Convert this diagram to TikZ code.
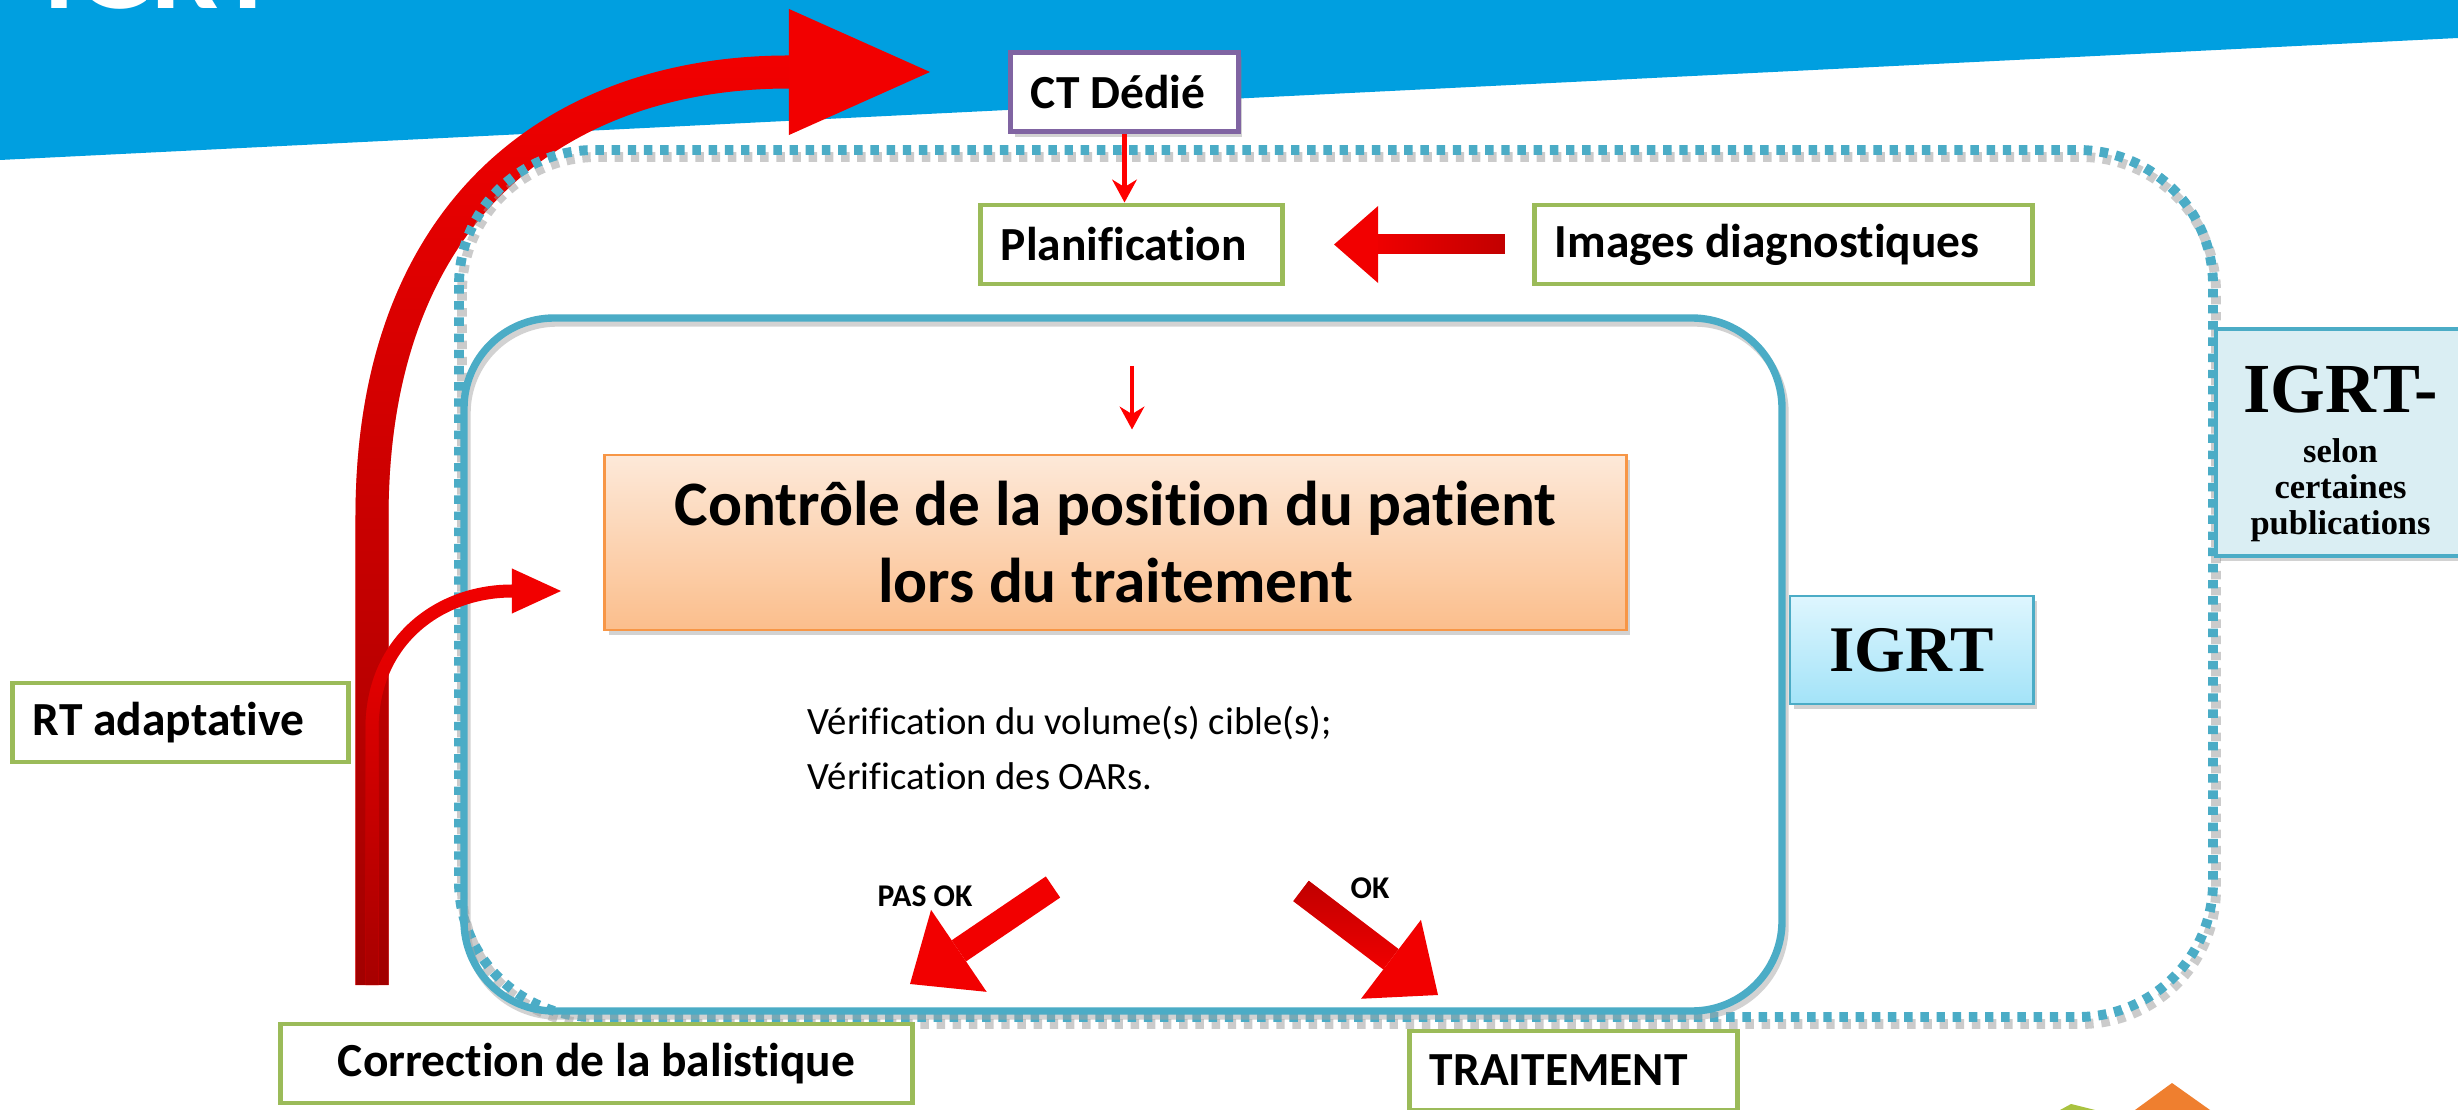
\documentclass[tikz,border=0pt]{standalone}
\usepackage{fontspec}
\setmainfont{Carlito}[Ligatures=NoCommon]
\newfontfamily\igrtfont{Liberation Serif}
\usetikzlibrary{arrows.meta}
\usetikzlibrary{shadows}
\usetikzlibrary{fadings}
\usetikzlibrary{calc}

\definecolor{bannerblue}{HTML}{009FE0}
\definecolor{igrtblue}{HTML}{4BACC6}
\definecolor{boxgreen}{HTML}{9BBB59}
\definecolor{ctpurple}{HTML}{8064A2}
\definecolor{ctrlorange}{HTML}{F79646}
\definecolor{ctrltop}{HTML}{FDE9D9}
\definecolor{ctrlbottom}{HTML}{FBBE8C}
\definecolor{igrttop}{HTML}{DEF6FE}
\definecolor{igrtbottom}{HTML}{A3E3F8}
\definecolor{pubfill}{HTML}{DAEEF3}
\definecolor{arrowred}{HTML}{F20000}
\definecolor{darkred}{HTML}{A00000}
\definecolor{decoorange}{HTML}{EF7F2F}
\definecolor{decogreen}{HTML}{A9C23F}

\tikzfading[name=loopfade,top color=transparent!100,middle color=transparent!40,bottom color=transparent!0]
\tikzfading[name=tailright,left color=transparent!100,right color=transparent!0]
\tikzfading[name=tailtop,top color=transparent!0,bottom color=transparent!100]

\begin{document}
\begin{tikzpicture}
  [x=0.01cm, y=-0.01cm,
  softshadow/.style={drop shadow={opacity=0.35,shadow xshift=0.04cm,shadow yshift=-0.05cm}},
  greenbox/.style={draw=boxgreen,line width=1.4pt,fill=white,align=left,inner xsep=0.2cm,inner ysep=0pt,minimum height=0.79cm,font=\fontsize{13.5}{16}\selectfont\bfseries,execute at begin node={\spaceskip=0pt\xspaceskip=0pt}},
  ctbox/.style={greenbox,draw=ctpurple,softshadow},
  ctrlbox/.style={draw=ctrlorange,line width=0.8pt,top color=ctrltop,bottom color=ctrlbottom,align=center,minimum width=10.21cm,minimum height=1.75cm,font=\fontsize{18}{21.9}\selectfont\bfseries,softshadow},
  igrtbox/.style={draw=igrtblue,line width=0.8pt,top color=igrttop,bottom color=igrtbottom,minimum width=2.43cm,minimum height=1.08cm,font=\igrtfont\fontsize{18.5}{20}\selectfont\bfseries,softshadow},
  pubbox/.style={draw=igrtblue,line width=1pt,fill=pubfill,minimum width=2.49cm,minimum height=2.27cm,softshadow},
  pubtext/.style={align=center,inner sep=0pt,font=\igrtfont\fontsize{9.8}{10.2}\selectfont\bfseries},
  dotbox/.style={draw=igrtblue,line width=2.8pt,dash pattern=on 2.4pt off 2.2pt,rounded corners=1.35cm},
  framebox/.style={draw=igrtblue,line width=2.1pt,rounded corners=0.9cm},
  thinred/.style={draw=red,line width=1.3pt,-{Stealth[length=6.5pt,width=7pt]}},
  okarrow/.style={draw=arrowred,line width=0.255cm,-{Triangle[length=0.59cm,width=0.99cm,line width=0pt]}},
  bigleft/.style={draw=arrowred,line width=0.2cm,-{Triangle[length=0.44cm,width=0.77cm,line width=0pt]}},
  looparrow/.style={draw=arrowred,line width=0.33cm,-{Triangle[length=1.41cm,width=1.26cm,line width=0pt]}},
  smallloop/.style={draw=arrowred,line width=0.13cm,-{Triangle[length=0.49cm,width=0.45cm,line width=0pt]}},
  oklabel/.style={font=\fontsize{9}{10}\selectfont\bfseries}]

  \useasboundingbox (0,0) rectangle (2458,1110);
  \fill[white] (0,0) rectangle (2458,1110);

  \fill[bannerblue] (0,0) -- (2458,0) -- (2458,38) -- (0,160) -- cycle;
  \node[anchor=base west,inner sep=0pt,text=white,font=\fontsize{34}{34}\selectfont\bfseries] (title) at (43,9) {IGRT};

  % boucle RT adaptative
  \coordinate (loopfoot) at (372,985);
  \coordinate (looptip) at (930,72);
  \draw[looparrow] (loopfoot) -- (372,517) .. controls (372,204) and (564,72) .. (789,72) -- (looptip);
  \draw[draw=darkred,line width=0.33cm,path fading=loopfade] (loopfoot) -- (372,517) .. controls (372,204) and (564,72) .. (789,72);

  \draw[dotbox,draw=black!40,opacity=0.5,shift={(3,7)}] (459,150) rectangle (2213,1017);
  \draw[dotbox] (459,150) rectangle (2213,1017);
  \draw[framebox,draw=black!35,opacity=0.5,shift={(3,5)}] (464,318) rectangle (1782,1011);
  \draw[framebox] (464,318) rectangle (1782,1011);

  \coordinate (smallfoot) at (372,985);
  \coordinate (smalltip) at (561,591);
  \draw[smallloop] (smallfoot) -- (372,729) .. controls (372,640) and (440,591) .. (512,591) -- (smalltip);
  \draw[draw=red!65!black,line width=0.13cm,path fading=loopfade] (smallfoot) -- (372,729) .. controls (372,640) and (440,591) .. (512,591);

  \node[ctbox,text width=1.87cm] (ct) at (1124.5,92) {CT Dédié};
  \node[greenbox,text width=2.61cm] (planif) at (1131.5,244.5) {Planification};
  \node[greenbox,text width=4.57cm] (imgdiag) at (1783.5,244.5) {Images diagnostiques};
  \node[greenbox,text width=2.95cm] (rtadapt) at (180.5,722.5) {RT adaptative};
  \node[greenbox,align=center,minimum width=6.31cm] (correction) at (596.5,1063.5) {Correction de la balistique};
  \node[greenbox,text width=2.87cm] (traitement) at (1573.5,1070.5) {TRAITEMENT};

  \node[ctrlbox] (ctrl) at (1115.5,542.5) {Contrôle de la position du patient\\lors du traitement};
  \node[anchor=west,align=left,inner sep=0pt,font=\fontsize{11}{15.6}\selectfont] (verif) at (807,748) {Vérification du volume(s) cible(s);\\Vérification des OARs.};

  \node[igrtbox] (igrt) at (1911.5,650) {IGRT};
  \node[pubbox] (igrtpub) at (2340.5,442.5) {};
  \node[pubtext] (igrtpubtxt) at (2340.5,454) {{\fontsize{20}{20}\selectfont IGRT-}\\[4pt]selon\\certaines\\publications};

  \draw[thinred] (ct.south) -- (ct.south |- planif.north);
  \coordinate (ctrlin) at (1132,366);
  \draw[thinred,shorten >=0.24cm] (ctrlin) -- (ctrlin |- ctrl.north);

  \draw[bigleft,shorten <=0.275cm,shorten >=0.495cm] (imgdiag.west) -- (planif.east);
  \draw[draw=red!75!black,line width=0.2cm,path fading=tailright] ([xshift=-0.275cm]imgdiag.west) -- ([xshift=0.935cm]planif.east);

  \coordinate (pasokA) at (1053,887);
  \coordinate (pasokB) at (910,984);
  \draw[okarrow] (pasokA) -- (pasokB);
  \node[oklabel] (pasok) at (925,896) {PAS OK};

  \coordinate (okA) at (1301,891);
  \coordinate (okB) at (1438,995);
  \draw[okarrow] (okA) -- (okB);
  \draw[draw=red!75!black,line width=0.255cm,path fading=tailtop] (okA) -- ($(okA)!0.655!(okB)$);
  \node[oklabel] (ok) at (1370,888) {OK};

  \fill[decoorange] (2135,1110) -- (2172,1083) -- (2210,1110) -- cycle;
  \fill[decogreen] (2060,1110) -- (2071,1104) -- (2095,1110) -- cycle;
\end{tikzpicture}
\end{document}
